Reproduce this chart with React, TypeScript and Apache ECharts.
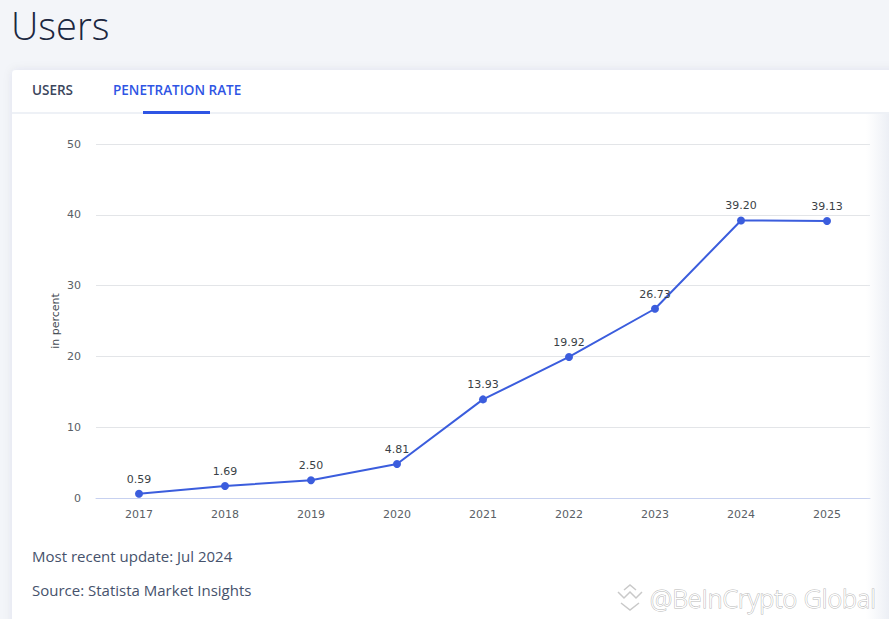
import React, { useEffect, useRef } from "react";
import * as echarts from "echarts";

const years = ["2017", "2018", "2019", "2020", "2021", "2022", "2023", "2024", "2025"];
const penetration = [0.59, 1.69, 2.5, 4.81, 13.93, 19.92, 26.73, 39.2, 39.13];
const yTicks = { min: 0, max: 50, interval: 10 };
const yAxisName = "in percent";
const titleText = "Users";
const tabs = ["USERS", "PENETRATION RATE"];
const footnotes = ["Most recent update: Jul 2024", "Source: Statista Market Insights"];
const watermark = "@BeInCrypto Global";

export default function App() {
  const ref = useRef<HTMLDivElement>(null);
  useEffect(() => {
    document.body.style.margin = "0";
    const chart = echarts.init(ref.current!, null, { renderer: "svg" });
    const font = "'DejaVu Sans', sans-serif";
    const uiFont = "'Open Sans', sans-serif";
    chart.setOption({
      animation: false,
      backgroundColor: "#f3f5f9",
      grid: { left: 96, right: 19, top: 144, bottom: 121 },
      xAxis: {
        type: "category",
        data: years,
        boundaryGap: true,
        axisLine: { show: true, lineStyle: { color: "#c7d1f0", width: 1 } },
        axisTick: { show: false },
        axisLabel: { color: "#5a5f66", fontSize: 11, fontFamily: font, margin: 11 },
      },
      yAxis: {
        type: "value",
        min: yTicks.min,
        max: yTicks.max,
        interval: yTicks.interval,
        axisLine: { show: false },
        axisTick: { show: false },
        axisLabel: { color: "#5a5f66", fontSize: 11, fontFamily: font, margin: 15 },
        splitLine: { lineStyle: { color: "#e3e5e8", width: 1 } },
      },
      graphic: [
        {
          type: "rect",
          z: -10,
          silent: true,
          shape: { x: 12, y: 70, width: 900, height: 600, r: 4 },
          style: { fill: "#ffffff", shadowBlur: 10, shadowColor: "rgba(30,50,90,0.08)" },
        },
        {
          type: "line",
          z: -9,
          shape: { x1: 12, y1: 113, x2: 889, y2: 113 },
          style: { stroke: "#eef1f6", lineWidth: 2 },
        },
        {
          type: "rect",
          z: 50,
          silent: true,
          shape: { x: 866, y: 114, width: 23, height: 505 },
          style: {
            fill: new echarts.graphic.LinearGradient(0, 0, 1, 0, [
              { offset: 0, color: "rgba(238,241,246,0)" },
              { offset: 1, color: "rgba(236,239,245,1)" },
            ]),
          },
        },
        {
          type: "text",
          x: 55,
          y: 321,
          rotation: Math.PI / 2,
          style: {
            text: yAxisName,
            fontSize: 11,
            fontFamily: font,
            fill: "#444a52",
            align: "center",
            verticalAlign: "middle",
          },
        },
        {
          type: "text",
          x: 11,
          y: 25,
          style: {
            text: titleText,
            fontSize: 38,
            lineHeight: 38,
            fontWeight: 300,
            fontFamily: uiFont,
            fill: "#1b2740",
            verticalAlign: "middle",
            align: "left",
          },
        },
        {
          type: "text",
          x: 32,
          y: 90,
          style: {
            text: tabs[0],
            fontSize: 13.5,
            fontWeight: 600,
            fontFamily: uiFont,
            fill: "#3b465c",
            verticalAlign: "middle",
          },
        },
        {
          type: "text",
          x: 113,
          y: 90,
          style: {
            text: tabs[1],
            fontSize: 13.5,
            fontWeight: 600,
            fontFamily: uiFont,
            fill: "#2f55e4",
            verticalAlign: "middle",
          },
        },
        {
          type: "rect",
          shape: { x: 143, y: 111, width: 67, height: 3 },
          style: { fill: "#2f55e4" },
        },
        {
          type: "text",
          x: 32,
          y: 556,
          style: {
            text: footnotes[0],
            fontSize: 15,
            fontFamily: uiFont,
            fill: "#46526c",
            verticalAlign: "middle",
          },
        },
        {
          type: "text",
          x: 32,
          y: 590,
          style: {
            text: footnotes[1],
            fontSize: 15,
            fontFamily: uiFont,
            fill: "#46526c",
            verticalAlign: "middle",
          },
        },
        {
          type: "polyline",
          z: 60,
          shape: { points: [[618, 592], [624, 598], [630, 592], [636, 598], [642, 592]] },
          style: { stroke: "#c9c9c9", lineWidth: 1.5, fill: null },
        },
        {
          type: "polyline",
          z: 60,
          shape: { points: [[624, 590], [630, 585], [636, 590]] },
          style: { stroke: "#c9c9c9", lineWidth: 1.5, fill: null },
        },
        {
          type: "polyline",
          z: 60,
          shape: { points: [[621, 603], [630, 610], [639, 603]] },
          style: { stroke: "#c9c9c9", lineWidth: 1.5, fill: null },
        },
        {
          type: "text",
          z: 60,
          x: 650,
          y: 598,
          style: {
            text: watermark,
            fontSize: 25,
            lineHeight: 28,
            fontWeight: 300,
            fontFamily: "'Open Sans', sans-serif",
            fill: "#ffffff",
            stroke: "#b8b8b8",
            lineWidth: 1,
            verticalAlign: "middle",
          },
        },
      ],
      series: [
        {
          type: "line",
          data: penetration,
          symbol: "circle",
          symbolSize: 8,
          lineStyle: { color: "#3b5ddd", width: 2 },
          itemStyle: { color: "#3b5ddd" },
          label: {
            show: true,
            position: "top",
            distance: 5,
            color: "#3a3f46",
            fontSize: 11,
            fontFamily: font,
            formatter: (p: any) => p.value.toFixed(2),
          },
        },
      ],
    });
    return () => chart.dispose();
  }, []);
  return <div ref={ref} style={{ width: 889, height: 619 }} />;
}
